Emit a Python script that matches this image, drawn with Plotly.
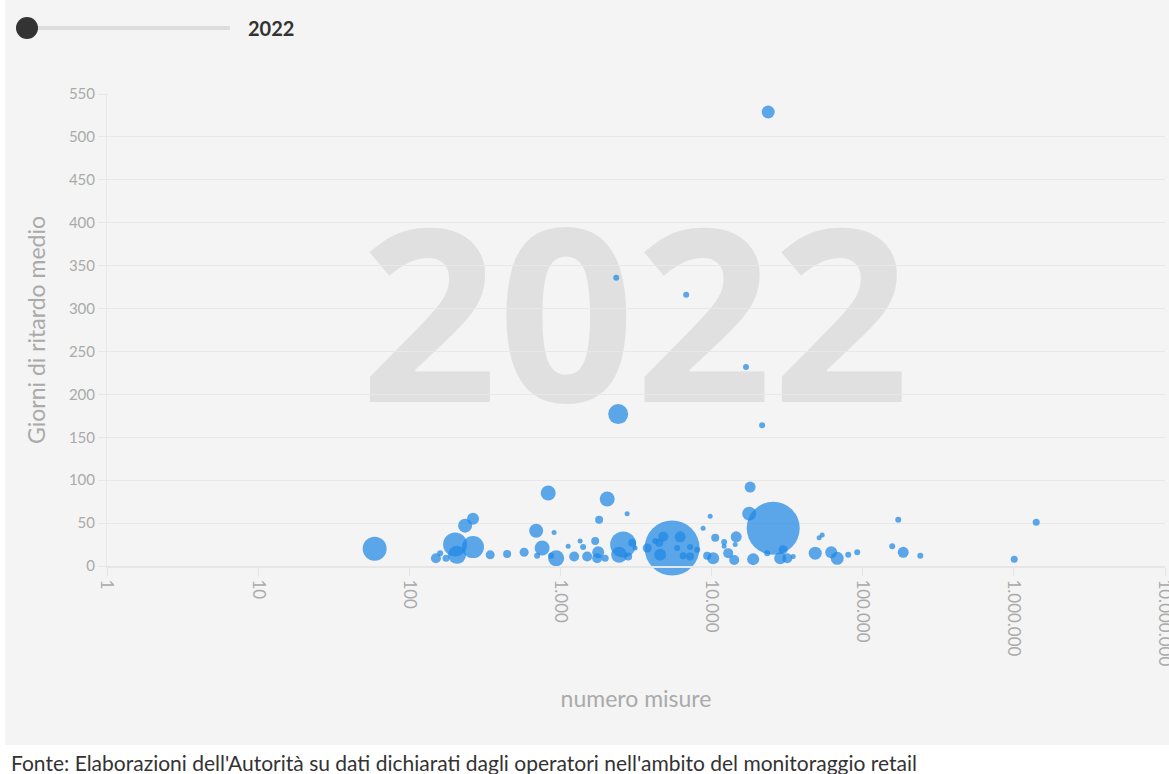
import plotly.graph_objects as go

# ---- data ----
numero_misure = [
    23700, 2340, 6790, 16900, 21600, 2410, 18000, 830, 2040, 59,
    1406000, 1006000, 171800, 156700, 185400, 240400, 92000, 80200, 61900, 67800,
    53950, 51500, 48500, 25580, 5480, 17740, 9790, 8790, 14550, 10570,
    12110, 12110, 14330, 12880, 14120, 10250, 9350, 8030, 7210, 6490,
    3750, 4790, 6200, 4570, 5920, 4500, 23340, 29770, 28450, 31700,
    34680, 18850, 1698, 1413, 1503, 1778, 1750, 1977, 2445, 2600,
    2984, 3120, 2805, 1803, 2762, 1233, 1350, 1125, 937, 757,
    691, 908, 701, 867, 575, 444, 343, 264, 201, 207,
    234, 264, 150, 160, 175, 4240, 7210,
]
giorni_ritardo = [
    529, 336, 316, 232, 164, 177, 92, 85, 78, 20,
    51, 8, 54, 23, 16, 12, 16, 13, 16, 9,
    36, 33, 15, 44, 21, 61, 58, 44, 34, 33,
    28, 23, 25, 15, 7, 9, 12, 19, 11, 12,
    21, 34, 34, 13, 21, 27, 15, 19, 9, 9,
    11, 8, 29, 22, 11, 16, 9, 9, 13, 25,
    27, 21, 11, 54, 61, 11, 29, 23, 9, 21,
    41, 39, 12, 12, 16, 14, 13, 22, 25, 13,
    47, 55, 9, 15, 9, 29, 22,
]
peso = [
    169, 36, 36, 36, 36, 400, 121, 225, 225, 576,
    49, 49, 36, 36, 121, 36, 36, 36, 144, 169,
    25, 25, 169, 2809, 3025, 196, 25, 25, 121, 64,
    36, 25, 25, 100, 100, 144, 64, 36, 64, 49,
    81, 100, 121, 144, 36, 64, 36, 81, 144, 100,
    25, 144, 64, 36, 100, 144, 100, 49, 256, 676,
    64, 25, 64, 64, 25, 100, 25, 25, 256, 225,
    196, 25, 36, 36, 81, 64, 81, 484, 576, 324,
    196, 144, 100, 36, 49, 36, 36,
]
anno = "2022"
x_tickvals = [1, 10, 100, 1000, 10000, 100000, 1000000, 10000000]
x_ticktext = ["1", "10", "100", "1.000", "10.000", "100.000", "1.000.000", "10.000.000"]
y_tickvals = list(range(0, 551, 50))

FONT = "Lato"
GREY = "#aaaaaa"
BG = "#f4f4f4"

# plot-area geometry in pixels (for paper-coordinate helpers)
L, T, W, H = 107, 94, 1058, 472


def px(xpix):
    return (xpix - L) / W


def py(ypix):
    return (T + H - ypix) / H


fig = go.Figure()
fig.add_trace(go.Scatter(
    x=numero_misure, y=giorni_ritardo, mode="markers",
    marker=dict(size=peso, sizemode="area", sizeref=2, color="rgb(30,136,229)",
                opacity=0.72, line=dict(width=0)),
    cliponaxis=False, hoverinfo="x+y", showlegend=False,
))

shapes = [
    # light panel
    dict(type="rect", xref="paper", yref="paper", x0=px(5), x1=px(1175), y0=py(745), y1=py(-5),
         fillcolor=BG, line=dict(width=0), layer="below"),
    # watermark year
    dict(type="rect", xref="paper", yref="paper", x0=px(335), x1=px(935), y0=py(445), y1=py(205),
         fillcolor="rgba(0,0,0,0)", line=dict(width=0), layer="below",
         label=dict(text=anno, textposition="middle center",
                    font=dict(family="Open Sans", size=240, color="#e0e0e0", weight="bold"))),
    # slider track
    dict(type="line", xref="paper", yref="paper", x0=px(27), x1=px(230), y0=py(28), y1=py(28),
         line=dict(color="#dcdcdc", width=4)),
    # slider knob
    dict(type="circle", xref="paper", yref="paper", xsizemode="pixel", ysizemode="pixel",
         xanchor=px(27), yanchor=py(28), x0=-11, x1=11, y0=-11, y1=11,
         fillcolor="#333333", line=dict(width=0)),
]

annotations = [
    dict(text="<b>" + anno + "</b>", xref="paper", yref="paper", x=px(246), y=py(28),
         xanchor="left", yanchor="middle", showarrow=False,
         font=dict(family=FONT, size=20, color="#333333")),
    dict(text="Fonte: Elaborazioni dell'Autorità su dati dichiarati dagli operatori nell'ambito del monitoraggio retail",
         xref="paper", yref="paper", x=px(9), y=py(762), xanchor="left", yanchor="middle",
         showarrow=False, font=dict(family=FONT, size=21, color="#333333")),
]

fig.update_layout(
    width=1169, height=774,
    margin=dict(l=L, r=1169 - L - W, t=T, b=774 - T - H, autoexpand=False),
    paper_bgcolor="#ffffff", plot_bgcolor="rgba(0,0,0,0)",
    font=dict(family=FONT, color=GREY),
    shapes=shapes, annotations=annotations,
    xaxis=dict(type="log", range=[0, 7], tickvals=x_tickvals, ticktext=x_ticktext,
               tickangle=90, ticks="outside", ticklen=8, tickcolor="#e4e4e4",
               ticklabeloverflow="allow",
               showgrid=False, showline=True, linecolor="#e6e6e6", linewidth=2, zeroline=False,
               tickfont=dict(size=17, color=GREY),
               title=dict(text="numero misure", font=dict(size=23, color=GREY), standoff=25)),
    yaxis=dict(range=[0, 550], tickvals=y_tickvals, ticks="outside", ticklen=8,
               tickcolor="#e8e8e8", showgrid=True, gridcolor="#e8e8e8", gridwidth=1,
               showline=True, linecolor="#e8e8e8", zeroline=False,
               tickfont=dict(size=15, color=GREY),
               title=dict(text="Giorni di ritardo medio", font=dict(size=23, color=GREY), standoff=16)),
)

fig.write_html("out.html", config={"displayModeBar": False},
               post_script="document.body.style.margin='0';")
